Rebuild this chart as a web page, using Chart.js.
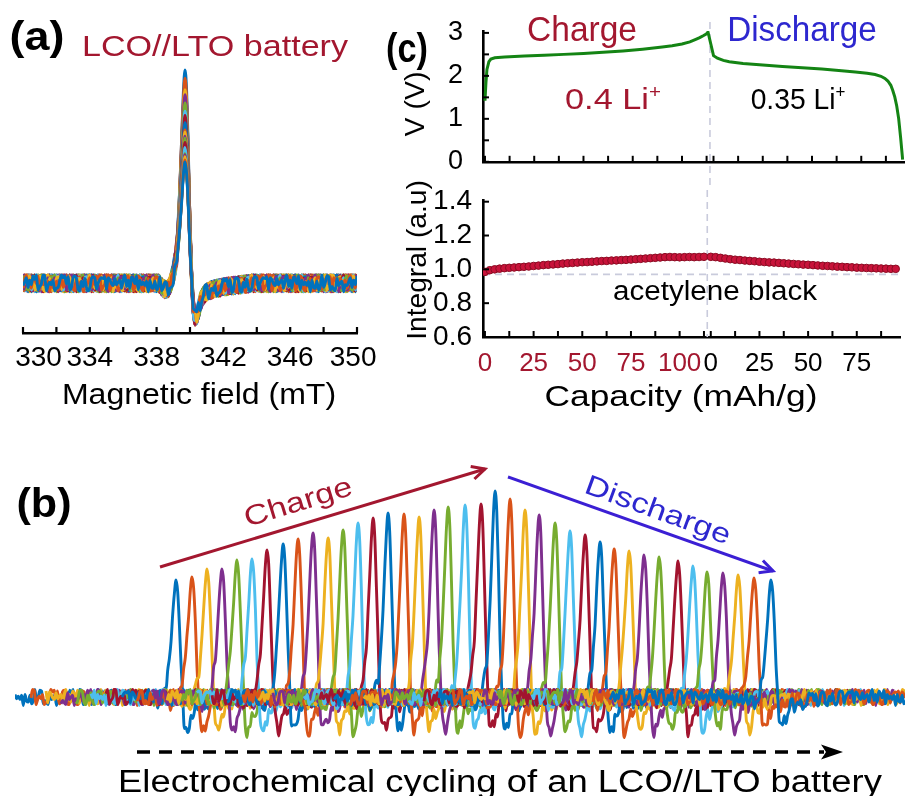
<!DOCTYPE html>
<html><head><meta charset="utf-8">
<script src="https://cdn.jsdelivr.net/npm/chart.js@4.4.1/dist/chart.umd.min.js"></script>
<style>
html,body{margin:0;padding:0;background:#fff;}
#fig{position:relative;width:905px;height:796px;overflow:hidden;background:#fff;font-family:"Liberation Sans",Arial,Helvetica,sans-serif;color:#000;}
canvas{position:absolute;}
.t{position:absolute;white-space:nowrap;line-height:1;transform-origin:50% 50%;}
.t sup{font-size:0.6em;vertical-align:0.6em;line-height:0;}
svg{position:absolute;left:0;top:0;}
</style></head><body>
<div id="fig">
  <canvas id="cA" width="380" height="355" style="left:0;top:50px"></canvas>
  <canvas id="cB" width="890" height="280" style="left:15px;top:460px"></canvas>
  <canvas id="cV" width="525" height="190" style="left:380px;top:0"></canvas>
  <canvas id="cI" width="525" height="225" style="left:380px;top:180px"></canvas>
  <svg width="905" height="796" viewBox="0 0 905 796">
    <defs>
      <marker id="hR" markerUnits="userSpaceOnUse" markerWidth="18" markerHeight="16" refX="15" refY="8" orient="auto">
        <path d="M2,1.5 L15,8 L2,14.5" fill="none" stroke="#a3172f" stroke-width="3"/>
      </marker>
      <marker id="hB" markerUnits="userSpaceOnUse" markerWidth="18" markerHeight="16" refX="15" refY="8" orient="auto">
        <path d="M2,1.5 L15,8 L2,14.5" fill="none" stroke="#3b1fd4" stroke-width="3"/>
      </marker>
    </defs>
    <line x1="160" y1="567" x2="485" y2="469" stroke="#a3172f" stroke-width="3" marker-end="url(#hR)"/>
    <line x1="508" y1="477" x2="773" y2="571" stroke="#3b1fd4" stroke-width="3" marker-end="url(#hB)"/>
    <line x1="137" y1="752" x2="824" y2="752" stroke="#000" stroke-width="3.5" stroke-dasharray="13 9"/>
    <path d="M821,744.5 L843,752 L821,759.5 L826,752 Z" fill="#000"/>
  </svg>
</div>
<script>
// ---------------- DATA ----------------
// panel (a)/(b): EPR spectra, field axis (mT)
const fieldRange = [330, 350];
const fieldTickLabels = [330, 334, 338, 342, 346, 350];
const peakField = 339.7;
const lobeShape = [0,0,0,0,0,0,0.01,0.03,0.06,0.11,0.19,0.31,0.48,0.69,0.89,1.00,0.90,0.62,0.30,0.08,
  0,0,0,0,0,0,0,0,0,0,0,0,0,0,0,0,0,0,0,0,0,0,0,0,0,0,0,0,0,0,0,0,0,0,0,0];
const dipShape = [-0.05,-0.10,-0.15,-0.18,-0.18,-0.15,-0.10,-0.05,-0.02,0,0,0,0,0,0,0,0,0,0,
  -0.25,-0.70,-1.00,-0.95,-0.80,-0.60,-0.45,-0.36,-0.30,-0.26,-0.23,-0.21,-0.19,-0.17,-0.16,-0.15,-0.14,
  -0.13,-0.12,-0.11,-0.10,-0.09,-0.085,-0.08,-0.07,-0.065,-0.06,-0.05,-0.045,-0.04,-0.035,-0.03,-0.025,-0.02,-0.015,-0.01,0];
const dipDepth = 33;
// peak amplitude of each of the 40 spectra recorded during cycling (charge: 0-21, discharge: 22-39)
const peakAmp = [117,120,128,128,137,138,147,153,158,164,159,167,174,179,184,183,180,187,190,192,193,206,
  198,187,182,174,166,162,155,148,146,142,140,136,131,125,124,122,119,117];
// horizontal offset of each spectrum in panel (b), mT
const cycleShift = [0,0.96,1.87,2.77,3.67,4.58,5.48,6.45,7.35,8.25,9.16,10.06,10.96,11.87,12.77,13.73,14.64,15.54,16.39,17.41,
  18.37,19.22,20.12,21.02,21.87,22.83,23.73,24.64,25.54,26.39,27.29,28.19,29.10,30.24,31.14,31.99,32.95,33.86,34.82,35.84];
const traceColors = ['blue','orange','yellow','purple','green','lightblue','red','blue','orange','purple','yellow','green','lightblue','red',
  'blue','orange','yellow','purple','green','lightblue','red','blue','orange','yellow','purple','green','lightblue','red','blue','orange',
  'yellow','purple','green','red','lightblue','green','purple','yellow','orange','blue'];
const noise = [0.3,-0.5,0.8,-0.2,-0.9,0.4,0.1,-0.6,0.9,-0.3,0.5,-0.8,0.2,0.7,-0.4,-1.0,0.6,-0.1,0.3,-0.7,0.9,-0.5,0.0,0.8,-0.6,
  0.4,-0.9,0.2,0.6,-0.3,-0.8,0.5,0.1,-0.4,0.7,-0.2,0.9,-0.7,0.3,-0.5,0.6,-0.9,0.0,0.4,-0.6,0.8,-0.1,-0.5,0.7,-0.3,0.2,-0.8,
  0.5,0.9,-0.4,-0.2,0.6,-0.7,0.1,0.8,-0.9,0.3,-0.1,0.5,-0.6,0.7,-0.3,0.4,-0.8,0.0,0.9,-0.5,0.2,-0.4,0.6,-1.0,0.3,0.8,-0.2,
  -0.6,0.5,-0.3,0.7,-0.7,0.1,0.4,-0.9,0.6,-0.1,0.2,-0.5,0.8,-0.4,0.3,-0.8,0.5,-0.2];
const noiseAmp = 8.5;

// panel (c): voltage profile
const chargeCap = [0,0.5,1,2,3,5,10,20,30,40,50,60,70,80,90,95,100,104,107,109,111,112.5,113.2];
const chargeV   = [1.42,1.85,2.15,2.33,2.39,2.42,2.44,2.46,2.48,2.50,2.52,2.55,2.58,2.62,2.67,2.70,2.74,2.79,2.85,2.89,2.94,2.98,3.02];
const dischargeCap = [0,2,5,8,15,25,35,45,55,65,72,78,82,85,87,88.5,90,91,92,93,94,95,96];
const dischargeV   = [2.47,2.41,2.36,2.33,2.29,2.25,2.22,2.19,2.16,2.12,2.09,2.06,2.03,1.99,1.94,1.88,1.78,1.66,1.51,1.30,1.00,0.55,0.05];
const chargeEnd = 114.2;       // switch from charge to discharge (dashed line)
const dischargeOffset = 116;   // where discharge capacity 0 sits on the shared axis
// panel (c): integrated EPR intensity
const intChargeCap = [0,2.5,5,7.5,10,12.5,15,17.5,20,22.5,25,27.5,30,32.5,35,37.5,40,42.5,45,47.5,50,52.5,55,57.5,60,62.5,65,67.5,70,72.5,
  75,77.5,80,82.5,85,87.5,90,92.5,95,97.5,100,102.5,105,107.5,110,112.5];
const intCharge = [0.985,0.995,1.000,1.004,1.007,1.009,1.011,1.013,1.015,1.017,1.020,1.022,1.025,1.027,1.029,1.031,1.034,1.036,1.038,1.040,
  1.042,1.043,1.045,1.047,1.049,1.050,1.052,1.053,1.055,1.056,1.058,1.060,1.062,1.064,1.066,1.068,1.070,1.072,1.073,1.072,
  1.071,1.072,1.073,1.072,1.073,1.074];
const intDischargeCap = [0,2.5,5,7.5,10,12.5,15,17.5,20,22.5,25,27.5,30,32.5,35,37.5,40,42.5,45,47.5,50,52.5,55,57.5,60,62.5,65,67.5,70,72.5,
  75,77.5,80,82.5,85,87.5,90,92.5,95];
const intDischarge = [1.074,1.072,1.068,1.064,1.060,1.057,1.055,1.052,1.050,1.048,1.045,1.043,1.041,1.040,1.038,1.036,1.034,1.032,1.030,1.028,
  1.027,1.025,1.023,1.021,1.020,1.018,1.016,1.015,1.013,1.012,1.010,1.009,1.008,1.007,1.006,1.005,1.004,1.003,1.003];
const acetyleneRef = 0.97;
const chargeTickLabels = [0,25,50,75,100];
const dischargeTickLabels = [0,25,50,75];
const voltTickLabels = [0,1,2,3];
const intTickLabels = [0.6,0.8,1.0,1.2,1.4];

// ---------------- STYLE ----------------
const FONT = "'Liberation Sans', Arial, Helvetica, sans-serif";
const chargeColor = '#a3172f';
const dischargeColor = '#2d27cf';
const palette = {blue:'#0072BD', orange:'#D95319', yellow:'#EDB120', purple:'#7E2F8E', green:'#77AC30', lightblue:'#4DBEEE', red:'#A2142F'};
Chart.defaults.font.family = FONT;

const inTicks = {id:'inTicks', afterDraw(chart, args, o){
  const ctx = chart.ctx; ctx.save(); ctx.strokeStyle = '#000'; ctx.lineWidth = o.width || 2;
  (o.axes || []).forEach(id => { const s = chart.scales[id];
    s.ticks.forEach(t => { const p = s.getPixelForValue(t.value); ctx.beginPath();
      if (s.isHorizontal()) { ctx.moveTo(p, s.top); ctx.lineTo(p, s.top - o.len); }
      else { ctx.moveTo(s.right, p); ctx.lineTo(s.right + o.len, p); }
      ctx.stroke(); }); });
  ctx.restore(); }};
const refLines = {id:'refLines', beforeDatasetsDraw(chart, args, o){
  const ctx = chart.ctx; ctx.save(); ctx.strokeStyle = '#c9cbdc'; ctx.lineWidth = 1.6; ctx.setLineDash([7,5]);
  if (o.vx != null) { const px = chart.scales.x.getPixelForValue(o.vx); ctx.beginPath(); ctx.moveTo(px, o.vTop);
    ctx.lineTo(px, o.vBottom == null ? chart.chartArea.bottom : o.vBottom); ctx.stroke(); }
  if (o.hy != null) { const py = chart.scales.y.getPixelForValue(o.hy); ctx.beginPath();
    ctx.moveTo(chart.chartArea.left, py); ctx.lineTo(chart.chartArea.right, py); ctx.stroke(); }
  ctx.restore(); }};

function traceData(i, shift){
  const step = 0.1, pts = [];
  const n = Math.round((fieldRange[1]-fieldRange[0])/step);
  const peakIdx = Math.round((peakField-fieldRange[0])/step);
  for (let j = 0; j <= n; j++){
    const B = Math.round((fieldRange[0] + j*step)*10)/10;
    const t = j - peakIdx + 15;
    const lobe = (t >= 0 && t < lobeShape.length) ? lobeShape[t] : 0;
    const dip = (t >= 0 && t < dipShape.length) ? dipShape[t] : 0;
    const nz = noise[(j*3 + i*17) % noise.length] * noiseAmp * (1 - lobe);
    pts.push({x: B + shift, y: peakAmp[i]*lobe + dipDepth*dip + nz});
  }
  return pts;
}
function traces(shifted){
  return peakAmp.map((a, i) => ({data: traceData(i, shifted ? cycleShift[i] : 0), borderColor: palette[traceColors[i]],
    borderWidth: 2.9, pointRadius: 0, cubicInterpolationMode: 'monotone', order: peakAmp.length - i}));
}
const common = {responsive:false, animation:false, events:[], plugins:{legend:{display:false}, tooltip:{enabled:false}}};

// panel (a)
const fieldTicks = []; for (let v = fieldRange[0]; v <= fieldRange[1]; v += 2) fieldTicks.push(v);
const fieldLabel = v => {
  if (!fieldTickLabels.includes(v)) return '';
  if (v === fieldRange[0]) return '    ' + v;   // kept inside the panel like the original
  if (v === fieldRange[1]) return v + ' ';
  return String(v);
};
new Chart(document.getElementById('cA'), {type:'line', data:{datasets: traces(false)}, plugins:[inTicks],
  options:{...common, layout:{padding:{left:23, right:23, top:0, bottom:0}},
    plugins:{...common.plugins, inTicks:{axes:['x'], len:6, width:2.2}},
    scales:{
      x:{type:'linear', min:fieldRange[0], max:fieldRange[1], grid:{display:false}, border:{display:true, color:'#000', width:2.6},
         afterBuildTicks: s => { s.ticks = fieldTicks.map(v => ({value:v})); },
         afterFit: s => { s.height = 72; s.paddingLeft = 0; s.paddingRight = 0; },
         ticks:{autoSkip:false, maxRotation:0, minRotation:0, padding:0, color:'#000', font:{size:28}, callback: fieldLabel}},
      y:{display:false, min:-48.4, max:225.3}}}});

// panel (b)
new Chart(document.getElementById('cB'), {type:'line', data:{datasets: traces(true)},
  options:{...common, layout:{padding:0},
    scales:{x:{type:'linear', display:false, min:fieldRange[0], max:383.61}, y:{display:false, min:-43, max:237}}}});

// panel (c) shared capacity ticks
const capTicks = [];
for (let v = 0; v <= chargeTickLabels[chargeTickLabels.length-1] + 12.5; v += 12.5) capTicks.push(v);
for (let d = 0; d <= dischargeTickLabels[dischargeTickLabels.length-1] + 12.5; d += 12.5) capTicks.push(dischargeOffset + d);
const capLabel = v => {
  if (v < chargeEnd) return chargeTickLabels.includes(v) ? String(v) : '';
  const d = Math.round((v - dischargeOffset)*10)/10; return dischargeTickLabels.includes(d) ? String(d) : '';
};
const capMin = -1, capMax = 213.2;

const voltage = chargeCap.map((c, i) => ({x:c, y:chargeV[i]}))
  .concat(dischargeCap.map((d, i) => ({x:dischargeOffset + d, y:dischargeV[i]})));
new Chart(document.getElementById('cV'), {type:'line',
  data:{datasets:[{data:voltage, borderColor:'#148414', borderWidth:3, pointRadius:0, tension:0}]},
  plugins:[inTicks, refLines],
  options:{...common, layout:{padding:{top:31, left:0, right:0, bottom:0}},
    plugins:{...common.plugins, inTicks:{axes:['x','y'], len:6, width:2}, refLines:{vx:chargeEnd, vTop:22, vBottom:190}},
    scales:{
      x:{type:'linear', min:capMin, max:capMax, grid:{display:false}, border:{display:true, color:'#000', width:2.6},
         afterBuildTicks: s => { s.ticks = capTicks.map(v => ({value:v})); }, afterFit: s => { s.height = 22; },
         ticks:{display:false}},
      y:{min:0, max:3.044, grid:{display:false}, border:{display:true, color:'#000', width:2.6},
         afterBuildTicks: s => { const t = []; for (let v = 0; v <= 3; v += 0.5) t.push({value:v}); s.ticks = t; },
         afterFit: s => { s.width = 103; },
         ticks:{autoSkip:false, padding:12, color:'#000', font:{size:27}, callback: v => voltTickLabels.includes(v) ? String(v) : ''}}}}});

const integral = intChargeCap.map((c, i) => ({x:c, y:intCharge[i]}))
  .concat(intDischargeCap.map((d, i) => ({x:dischargeOffset + d, y:intDischarge[i]})));
new Chart(document.getElementById('cI'), {type:'line',
  data:{datasets:[{data:integral, borderColor:'#b31230', borderWidth:2, pointRadius:3.8, pointBorderWidth:1,
    pointBackgroundColor:'#c8133a', pointBorderColor:'#8a0b22', tension:0}]},
  plugins:[inTicks, refLines],
  options:{...common, layout:{padding:{top:20, left:0, right:0, bottom:0}},
    plugins:{...common.plugins, inTicks:{axes:['x','y'], len:6, width:2}, refLines:{vx:chargeEnd, vTop:10, hy:acetyleneRef}},
    scales:{
      x:{type:'linear', min:capMin, max:capMax, grid:{display:false}, border:{display:true, color:'#000', width:2.6},
         afterBuildTicks: s => { s.ticks = capTicks.map(v => ({value:v})); }, afterFit: s => { s.height = 68; },
         ticks:{autoSkip:false, maxRotation:0, minRotation:0, padding:3, font:{size:26},
           color: c => (c.tick && c.tick.value < chargeEnd) ? chargeColor : '#000', callback: capLabel}},
      y:{min:0.6, max:1.41, grid:{display:false}, border:{display:true, color:'#000', width:2.6},
         afterBuildTicks: s => { s.ticks = intTickLabels.map(v => ({value:v})); },
         afterFit: s => { s.width = 103; },
         ticks:{autoSkip:false, padding:3, color:'#000', font:{size:28}, callback: v => v.toFixed(1)}}}}});

// ---------------- TEXT ----------------
const texts = [
  {html:'(a)', cx:37, cy:36, w:55, size:40, bold:true},
  {html:'LCO//LTO battery', cx:215, cy:46, w:266, size:30, color:chargeColor},
  {html:'Magnetic field (mT)', cx:199, cy:394, w:274, size:29},
  {html:'(c)', cx:407, cy:48, w:42, size:40, bold:true},
  {html:'Charge', cx:582, cy:28, w:110, size:35, color:chargeColor},
  {html:'Discharge', cx:802, cy:28, w:150, size:35, color:dischargeColor},
  {html:'0.4 Li<sup>+</sup>', cx:613, cy:99, w:96, size:30, color:chargeColor},
  {html:'0.35 Li<sup>+</sup>', cx:798, cy:99, w:95, size:30},
  {html:'V (V)', cx:415, cy:104, w:65, size:28, rot:-90},
  {html:'Integral (a.u)', cx:417, cy:260, w:160, size:28, rot:-90},
  {html:'acetylene black', cx:715, cy:291, w:204, size:27},
  {html:'Capacity (mAh/g)', cx:681, cy:396, w:273, size:29},
  {html:'(b)', cx:44, cy:503, w:55, size:40, bold:true},
  {html:'Charge', cx:298, cy:502, w:112, size:28, rot:-17, color:chargeColor},
  {html:'Discharge', cx:658, cy:510, w:153, size:28, rot:20, color:dischargeColor},
  {html:'Electrochemical cycling of an LCO//LTO battery', cx:500, cy:781, w:764, size:31}
];
const fig = document.getElementById('fig');
const els = texts.map(o => { const e = document.createElement('div'); e.className = 't'; e.innerHTML = o.html;
  e.style.fontSize = o.size + 'px'; if (o.bold) e.style.fontWeight = 'bold'; e.style.color = o.color || '#000';
  e.style.left = o.cx + 'px'; e.style.top = o.cy + 'px'; fig.appendChild(e); return [e, o]; });
function fit(){ els.forEach(([e, o]) => { const nat = e.offsetWidth || 1;
  e.style.transform = `translate(-50%,-50%) rotate(${o.rot || 0}deg) scaleX(${(o.w / nat).toFixed(3)})`; }); }
fit(); if (document.fonts && document.fonts.ready) document.fonts.ready.then(fit);
</script>
</body></html>
